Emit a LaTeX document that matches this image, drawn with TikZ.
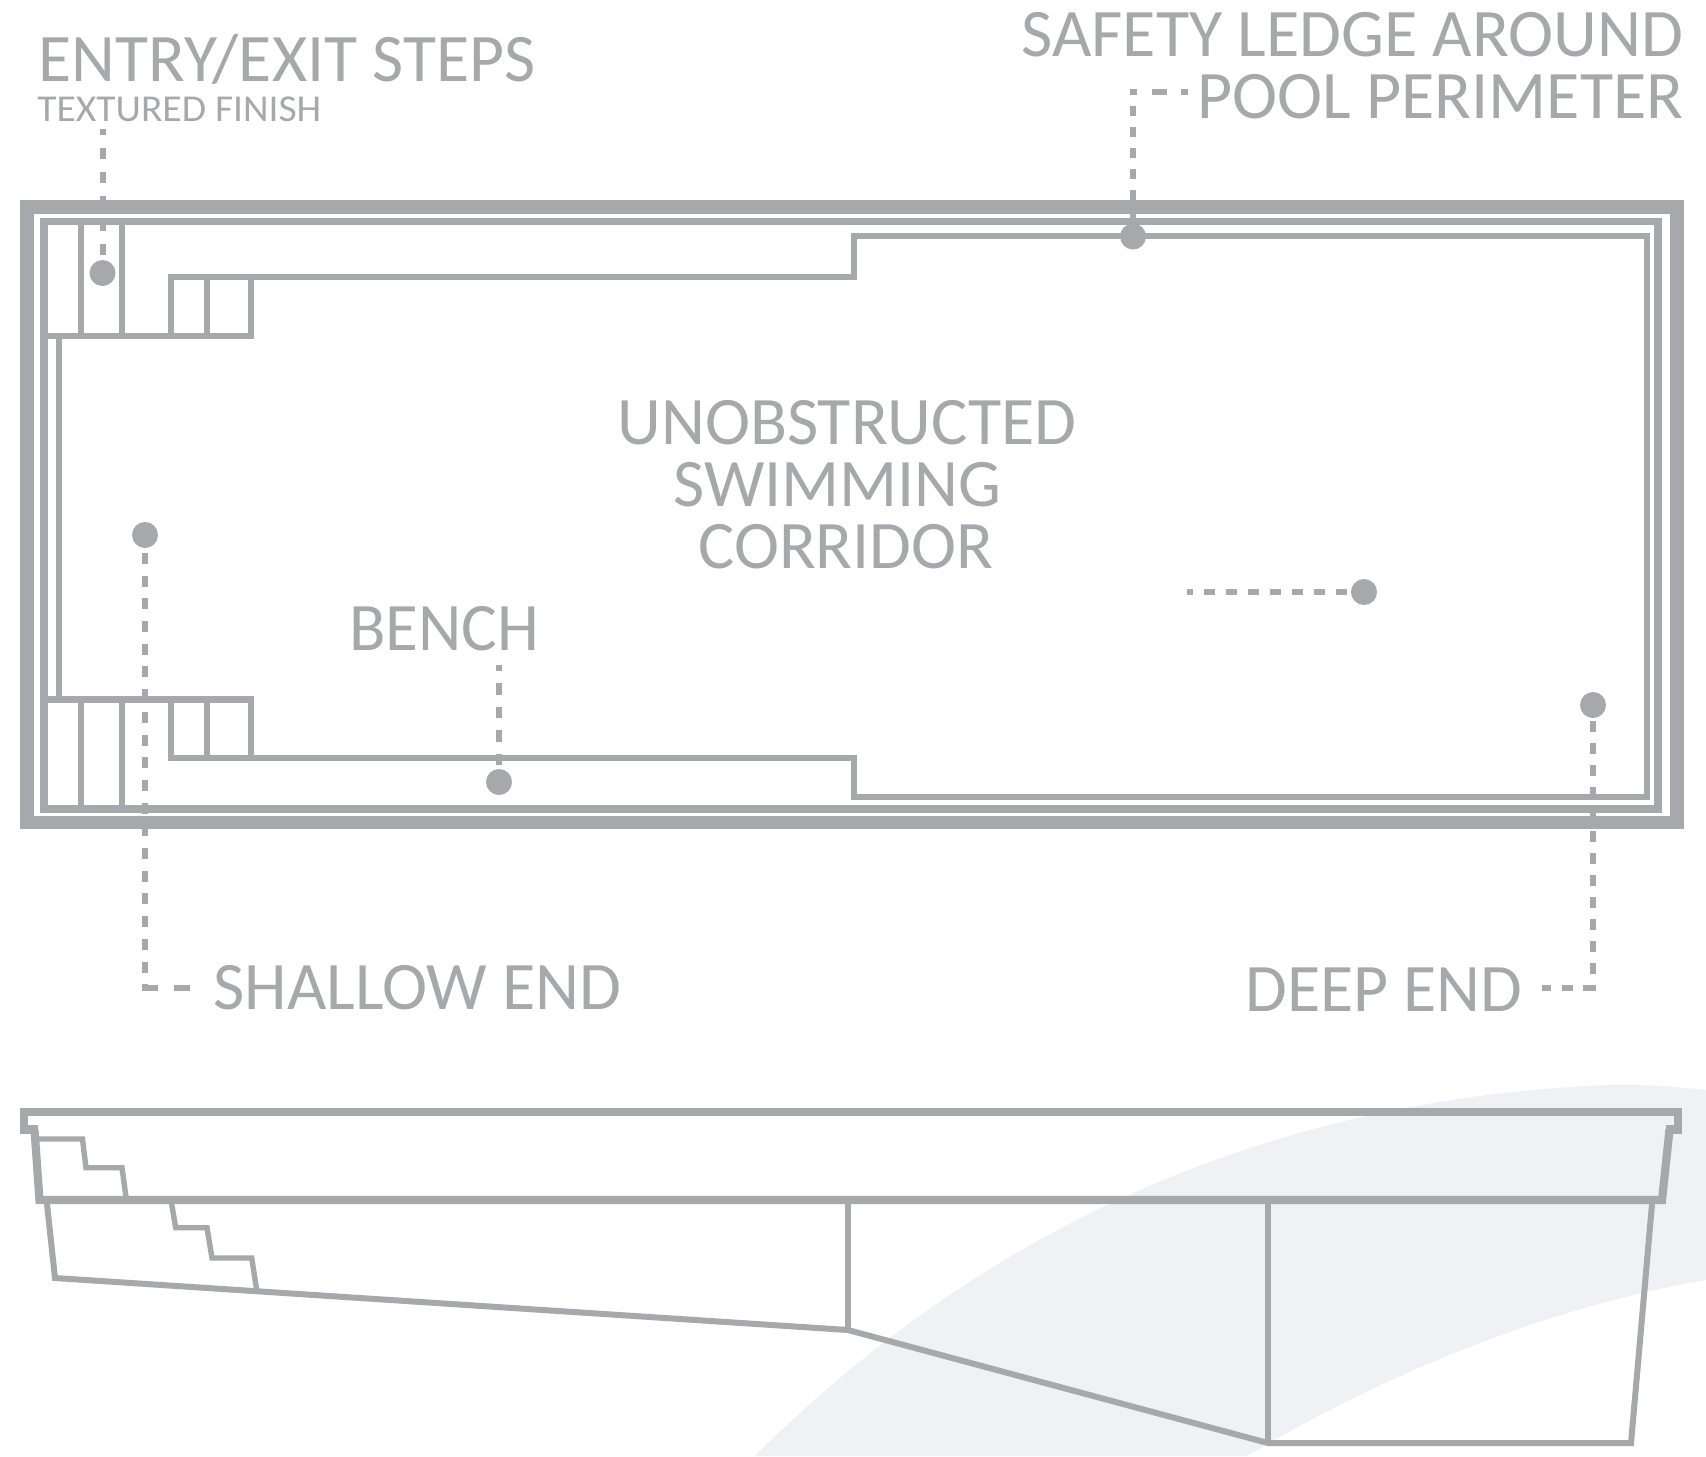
\documentclass[tikz,border=0pt]{standalone}
\usepackage{fontspec}
\setmainfont{Carlito}
\definecolor{pg}{HTML}{A7A8AC}
\definecolor{sw}{HTML}{F0F1F5}
\tikzset{
 x=0.5pt,y=-0.5pt,
 wall/.style={draw=pg,line cap=rect,line join=miter},
 wa/.style={wall,line width=6.9pt},
 wb/.style={wall,line width=3.75pt},
 wc/.style={wall,line width=3.1pt},
 wd/.style={wall,line width=4.1pt},
 we/.style={wall,line width=3pt},
 dash base/.style={draw=pg,line width=3pt,line cap=butt},
 dot/.style={circle,fill=pg,inner sep=0pt,minimum size=13pt},
 lbl/.style={text=pg,inner sep=0pt,anchor=base west},
}
\newcommand{\lab}[3]{\resizebox{#1}{\height}{\fontsize{#2}{#2}\selectfont #3}}
\begin{document}
\begin{tikzpicture}
\useasboundingbox (0,0) rectangle (1706,1456);
% background swoosh
\fill[sw] (755,1456) .. controls (950,1261) and (1220,1106) .. (1587,1086) .. controls (1630,1083) and (1670,1086) .. (1706,1090) -- (1706,1280) .. controls (1560,1305) and (1400,1365) .. (1247,1456) -- cycle;
% plan
\draw[wa] (27,207) rectangle (1677,822.5);
\draw[wb] (44,221.5) rectangle (1658,809);
\draw[wc] (171,336) -- (171,277) -- (854,277) -- (854,236) -- (1647,236) -- (1647,797) -- (854,797) -- (854,758) -- (171,758) -- (171,699.5);
\draw[wc] (48,336) -- (251,336) -- (251,277);
\draw[wc] (207,277) -- (207,336);
\draw[wc] (81,225) -- (81,336);
\draw[wc] (122,225) -- (122,336);
\draw[wc] (59,336) -- (59,699.5);
\draw[wc] (48,699.5) -- (251,699.5) -- (251,758);
\draw[wc] (207,699.5) -- (207,758);
\draw[wc] (81,699.5) -- (81,805);
\draw[wc] (122,699.5) -- (122,805);
% dots
\node[dot] (dsteps) at (102.5,273) {};
\node[dot] (dledge) at (1133,236.5) {};
\node[dot] (dshallow) at (145,535) {};
\node[dot] (dcorr) at (1364,592) {};
\node[dot] (dbench) at (499,782) {};
\node[dot] (ddeep) at (1593,705) {};
\coordinate (csteps) at (102.5,129);
\coordinate (cledge) at (1133,92);
\coordinate (cledge2) at (1190,92);
\coordinate (cshallow) at (145,988);
\coordinate (cshallow2) at (190,988);
\coordinate (ccorr) at (1187,592);
\coordinate (cbench) at (499,665);
\coordinate (cdeep) at (1593,988);
\coordinate (cdeep2) at (1542,988);
% leaders
\draw[dash base,dash pattern=on 5.5pt off 6.5pt,dash phase=2.5pt] (csteps) -- (dsteps.north);
\draw[dash base,dash pattern=on 5pt off 5.5pt,dash phase=9.5pt] (dledge.north) -- (cledge);
\draw[dash base,dash pattern=on 3.5pt off 7.5pt on 7.5pt off 7pt on 3.5pt] (cledge) ++(-3,0) -- (cledge2);
\draw[dash base,dash pattern=on 5.5pt off 5.85pt,dash phase=9.1pt] (dshallow.south) -- (cshallow);
\draw[dash base,dash pattern=on 8pt off 8pt on 8pt] (cshallow) ++(-3,0) -- (cshallow2);
\draw[dash base,dash pattern=on 5.5pt off 5.5pt,dash phase=9.5pt] (ddeep.south) -- (cdeep);
\draw[dash base,dash pattern=on 6.5pt off 5pt on 5.5pt off 5.5pt on 5.5pt] (cdeep) ++(3,0) -- (cdeep2);
\draw[dash base,dash pattern=on 5.5pt off 5.5pt,dash phase=2.5pt] (ccorr) -- (dcorr.west);
\draw[dash base,dash pattern=on 5.75pt off 6pt,dash phase=2.75pt] (cbench) -- (dbench.north);
% side view
\draw[wd,line cap=butt] (24,1133.5) -- (24,1112) -- (1678,1112) -- (1678,1133.5);
\draw[wd,line cap=butt] (20,1129.5) -- (38,1129.5);
\draw[wd,line cap=butt] (1666,1129.5) -- (1682,1129.5);
\draw[wd,line cap=butt] (34.5,1129.5) -- (39.5,1200) -- (1662,1200) -- (1669.5,1129.5);
\draw[we,line width=2.7pt] (38,1139) -- (82.5,1139) -- (86,1167.7) -- (122,1167.7) -- (126,1197);
\draw[we,line width=2.7pt] (171.7,1204) -- (175.7,1227.7) -- (207,1227.7) -- (212,1258) -- (251.7,1258) -- (256.7,1290);
\draw[we,line cap=butt] (47,1204) -- (55,1278) -- (848,1330) -- (1268,1443) -- (1631,1443) -- (1652,1204);
\draw[we,line cap=butt] (848,1204) -- (848,1330);
\draw[we,line cap=butt] (1268,1204) -- (1268,1443);
% labels
\node[lbl] (t1) at (38,81) {\lab{248.5pt}{34pt}{ENTRY/EXIT STEPS}};
\node[lbl] (t2) at (37,121) {\lab{142pt}{19pt}{TEXTURED FINISH}};
\node[lbl] (t3) at (1021,56) {\lab{331pt}{34pt}{SAFETY LEDGE AROUND}};
\node[lbl] (t4) at (1197,118) {\lab{243pt}{34pt}{POOL PERIMETER}};
\node[lbl] (t5) at (617,444) {\lab{229.5pt}{34pt}{UNOBSTRUCTED}};
\node[lbl] (t6) at (673,506) {\lab{164pt}{34pt}{SWIMMING}};
\node[lbl] (t7) at (698,568) {\lab{147.5pt}{34pt}{CORRIDOR}};
\node[lbl] (t8) at (349,650) {\lab{95pt}{34pt}{BENCH}};
\node[lbl] (t9) at (213,1009) {\lab{204pt}{34pt}{SHALLOW END}};
\node[lbl] (t10) at (1245,1011) {\lab{138.5pt}{34pt}{DEEP END}};
\end{tikzpicture}
\end{document}
